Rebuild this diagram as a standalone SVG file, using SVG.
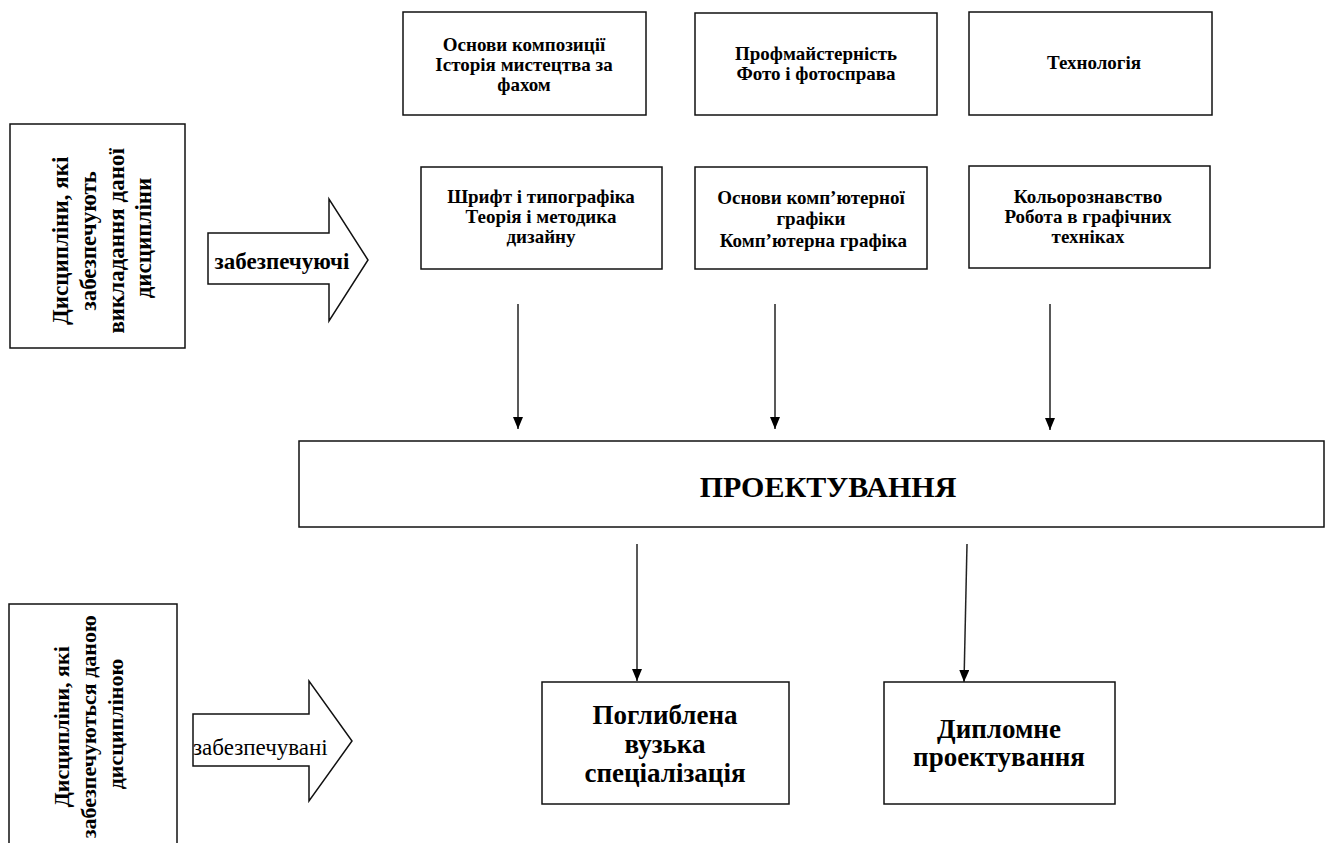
<svg xmlns="http://www.w3.org/2000/svg" width="1326" height="843" viewBox="0 0 1326 843">
<style>
.box{fill:#fff;stroke:#111;stroke-width:1.5}
.t{font-family:"Liberation Serif","Times New Roman",serif;font-weight:bold;fill:#000;text-anchor:middle}
.s{font-size:19px}
.conn{stroke:#222;stroke-width:1.5;fill:none}
</style>
<defs>
<marker id="ah" viewBox="0 0 12 10" refX="12" refY="5" markerWidth="12" markerHeight="10" markerUnits="userSpaceOnUse" orient="auto">
<path d="M0,0 L12,5 L0,10 Z" fill="#000"/>
</marker>
</defs>
<rect width="1326" height="843" fill="#fff"/>

<g id="left-top">
<rect class="box" x="10" y="124" width="175" height="224"/>
<text class="t" style="font-size:23px" transform="translate(0,238) rotate(-90)">
<tspan x="0" y="68">Дисципліни, які</tspan>
<tspan x="0" y="96">забезпечують</tspan>
<tspan x="0" y="124">викладання даної</tspan>
<tspan x="0" y="151">дисципліни</tspan>
</text>
</g>

<g id="arrow-top">
<polygon class="box" points="208,233 329,233 329,199 368,260 329,321 329,284 208,284"/>
<text class="t" style="font-size:23px" x="282" y="269">забезпечуючі</text>
</g>

<g id="n1">
<rect class="box" x="403" y="12" width="243" height="103"/>
<text class="t s"><tspan x="524" y="51">Основи композиції</tspan><tspan x="524" y="71">Історія мистецтва за</tspan><tspan x="524" y="91">фахом</tspan></text>
</g>
<g id="n2">
<rect class="box" x="695" y="13" width="242" height="102"/>
<text class="t s"><tspan x="816" y="60">Профмайстерність</tspan><tspan x="816" y="80">Фото і фотосправа</tspan></text>
</g>
<g id="n3">
<rect class="box" x="969" y="12" width="243" height="103"/>
<text class="t s" x="1094" y="69">Технологія</text>
</g>
<g id="n4">
<rect class="box" x="421" y="167" width="241" height="102"/>
<text class="t s"><tspan x="541" y="203">Шрифт і типографіка</tspan><tspan x="541" y="223">Теорія і методика</tspan><tspan x="541" y="243">дизайну</tspan></text>
</g>
<g id="n5">
<rect class="box" x="695" y="167" width="232" height="102"/>
<text class="t s"><tspan x="811" y="204">Основи комп’ютерної</tspan><tspan x="811" y="225">графіки</tspan><tspan x="811" y="247"> Комп’ютерна графіка</tspan></text>
</g>
<g id="n6">
<rect class="box" x="969" y="166" width="241" height="102"/>
<text class="t s"><tspan x="1088" y="203">Кольорознавство</tspan><tspan x="1088" y="223">Робота в графічних</tspan><tspan x="1088" y="243">техніках</tspan></text>
</g>

<g id="proekt">
<rect class="box" x="299" y="441" width="1025" height="86"/>
<text class="t" style="font-size:30px" x="828" y="497">ПРОЕКТУВАННЯ</text>
</g>

<g id="left-bottom">
<rect class="box" x="9" y="604" width="168" height="250"/>
<text class="t" style="font-size:22px" transform="translate(0,724) rotate(-90)">
<tspan x="0" y="69">Дисципліни, які</tspan>
<tspan x="0" y="96">забезпечуються даною</tspan>
<tspan x="0" y="123">дисципліною</tspan>
</text>
</g>

<g id="arrow-bottom">
<polygon class="box" points="193,714 309,714 309,681 352,741 309,801 309,766 193,766"/>
<text style="font-family:'Liberation Serif','Times New Roman',serif;font-size:23px;fill:#000" x="193" y="755">забезпечувані</text>
</g>

<g id="n7">
<rect class="box" x="542" y="682" width="247" height="122"/>
<text class="t" style="font-size:27px"><tspan x="665" y="724">Поглиблена</tspan><tspan x="665" y="753">вузька</tspan><tspan x="665" y="782">спеціалізація</tspan></text>
</g>
<g id="n8">
<rect class="box" x="884" y="682" width="231" height="122"/>
<text class="t" style="font-size:27px"><tspan x="999" y="738">Дипломне</tspan><tspan x="999" y="766">проектування</tspan></text>
</g>

<g id="connectors">
<line class="conn" x1="518" y1="304" x2="518" y2="429" marker-end="url(#ah)"/>
<line class="conn" x1="775" y1="304" x2="775" y2="429" marker-end="url(#ah)"/>
<line class="conn" x1="1050" y1="304" x2="1050" y2="430" marker-end="url(#ah)"/>
<line class="conn" x1="637" y1="544" x2="637" y2="681" marker-end="url(#ah)"/>
<line class="conn" x1="967" y1="544" x2="964" y2="682" marker-end="url(#ah)"/>
</g>
</svg>
